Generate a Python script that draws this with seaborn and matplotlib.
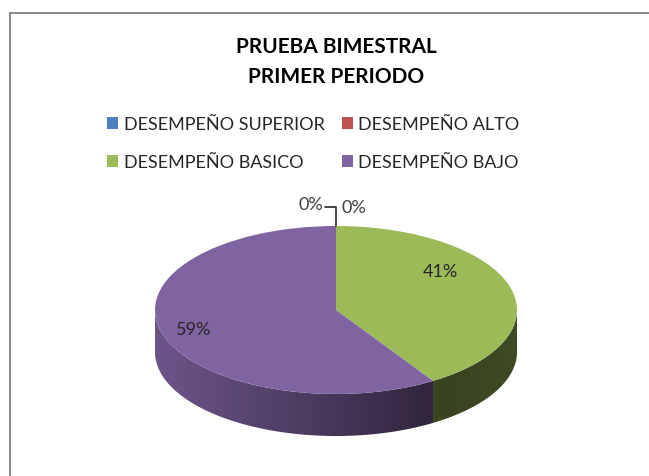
import numpy as np
import matplotlib
matplotlib.use("Agg")
import matplotlib.pyplot as plt
import seaborn as sns
from matplotlib.colors import to_rgb
from matplotlib.patches import Polygon, Rectangle

# ---------------------------------------------------
# DATA
# ---------------------------------------------------

categories = ["DESEMPEÑO SUPERIOR", "DESEMPEÑO ALTO", "DESEMPEÑO BASICO", "DESEMPEÑO BAJO"]
values = [0, 0, 41, 59]
colors = ["#4F81BD", "#C0504D", "#9BBB59", "#8064A2"]
title = "PRUEBA BIMESTRAL\nPRIMER PERIODO"

# ---------------------------------------------------
# THEME
# ---------------------------------------------------

sns.set_style("white")
plt.rcParams["font.family"] = ["Lato", "DejaVu Sans"]
TEXT_COLOR = "#262626"
DEPTH = 0.5          # thickness of the 3D wall, in pie-radius units
START = 90

fig = plt.figure(figsize=(6.49, 4.77), dpi=100)
ax = fig.add_axes([100 / 649, 1 - 460 / 477, 472 / 649, 270 / 477])


def shade(x):
    # light from the left, darker toward the right
    return np.interp(x, [-1.0, 0.6, 1.0], [0.85, 0.36, 0.40])


# ---------------------------------------------------
# SIDE WALLS (front half only)
# ---------------------------------------------------

total = sum(values)
theta = START
gx = np.linspace(-1, 1, 400)
for v, c in zip(values, colors):
    sweep = 360 * v / total
    t1, t2 = theta - sweep, theta
    theta -= sweep
    a, b = max(t1, -180), min(t2, 0)
    if v == 0 or a >= b:
        continue
    t = np.radians(np.linspace(a, b, 200))
    top = np.column_stack([np.cos(t), np.sin(t)])
    bot = np.column_stack([np.cos(t), np.sin(t) - DEPTH])[::-1]
    poly = Polygon(np.vstack([top, bot]), closed=True, facecolor="none", edgecolor="none")
    ax.add_patch(poly)
    rgb = np.array(to_rgb(c))
    img = shade(gx)[None, :, None] * rgb[None, None, :]
    im = ax.imshow(img, extent=(-1, 1, -1 - DEPTH, 0), aspect="auto",
                   interpolation="bilinear", zorder=1)
    im.set_clip_path(poly)

# ---------------------------------------------------
# TOP SURFACE
# ---------------------------------------------------

wedges, texts, autotexts = ax.pie(
    values,
    colors=colors,
    startangle=START,
    counterclock=False,
    autopct=lambda p: f"{p:.0f}%" if p > 0 else "",
    pctdistance=0.82,
    wedgeprops=dict(linewidth=0, zorder=3),
    textprops=dict(fontsize=13, color=TEXT_COLOR),
)
for t in autotexts:
    t.set_zorder(5)
autotexts[2].set_position((0.575, 0.46))

# zero-size slices sit at 12 o'clock: labels above with a leader line
ax.plot([0, 0, -0.06], [1.0, 1.23, 1.23], color="#262626", lw=1.2, zorder=4)
ax.text(-0.07, 1.26, f"{values[0]}%", ha="right", va="center", fontsize=13, color="#404040")
ax.text(0.03, 1.23, f"{values[1]}%", ha="left", va="center", fontsize=13, color="#404040")

ax.set_aspect("auto")
ax.set_xlim(-236 / 181, 236 / 181)
ax.set_ylim(-149 / 84, 121 / 84)
ax.axis("off")

# ---------------------------------------------------
# TITLE, LEGEND, FRAME
# ---------------------------------------------------

fig.text(336 / 649, 1 - 62 / 477, title, ha="center", va="center",
         fontsize=15, fontweight="bold", color="black", linespacing=1.65)

# legend reads row by row: superior, alto / basico, bajo
order = [0, 2, 1, 3]
fig.legend(
    [wedges[i] for i in order], [categories[i] for i in order],
    ncol=2, frameon=False,
    loc="upper left", bbox_to_anchor=(107 / 649, 1 - 117 / 477),
    fontsize=13, handlelength=0.62, handleheight=0.62,
    handletextpad=0.3, columnspacing=0.95, labelspacing=1.22,
    labelcolor=TEXT_COLOR, borderaxespad=0, borderpad=0,
)

fig.add_artist(Rectangle((10 / 649, -0.1), 1.2, (1 - 14 / 477) + 0.1,
                         transform=fig.transFigure, fill=False,
                         edgecolor="#808080", lw=1.3))

fig.savefig("out.png", dpi=100)
